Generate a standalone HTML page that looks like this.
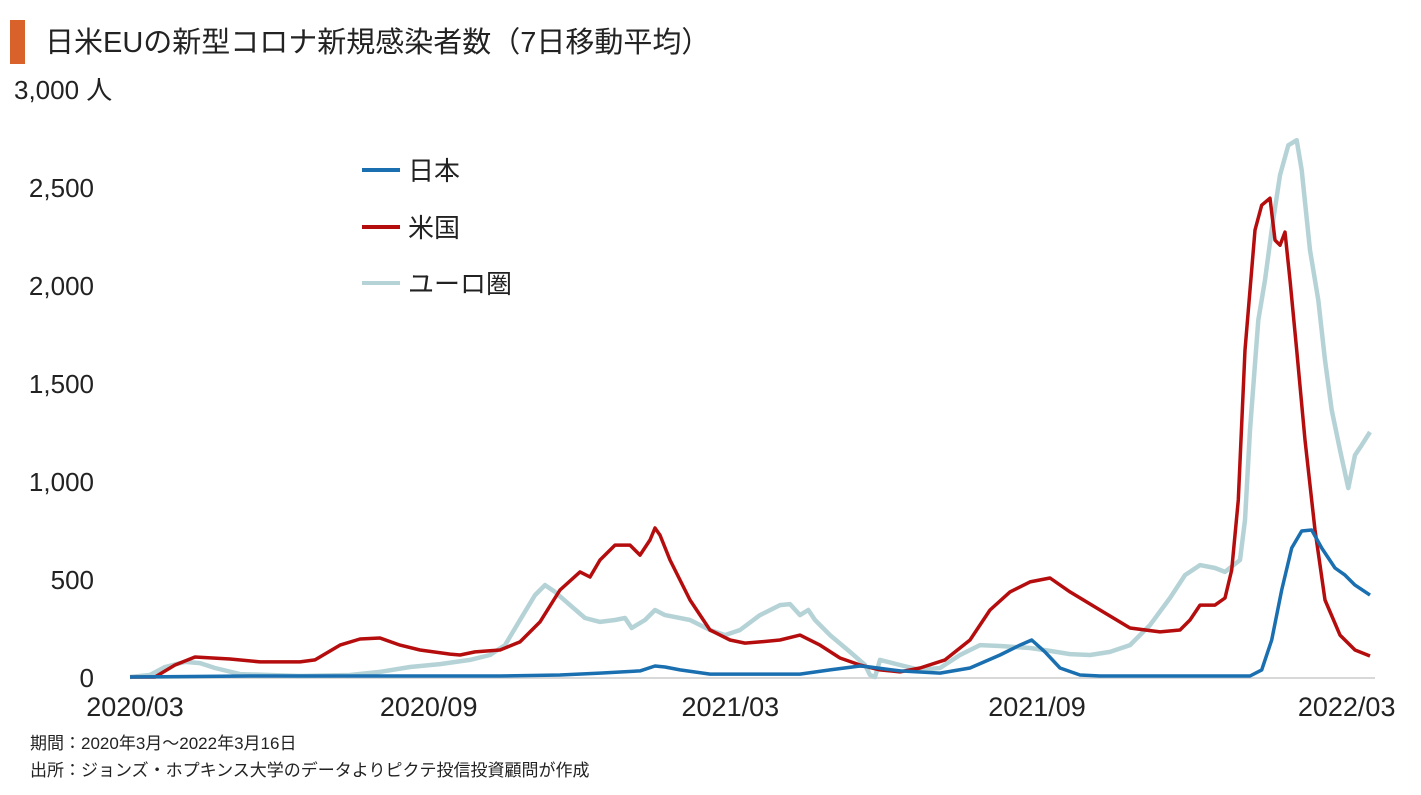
<!DOCTYPE html>
<html><head><meta charset="utf-8">
<style>
body{margin:0;background:#fff;width:1421px;height:790px;overflow:hidden;font-family:"Liberation Sans","Noto Sans CJK JP",sans-serif;}
</style></head>
<body>
<svg width="1421" height="790" xmlns="http://www.w3.org/2000/svg" style="font-family:'Liberation Sans','Noto Sans CJK JP',sans-serif">
<rect x="10" y="20" width="15" height="44" fill="#d9622b"/>
<text x="45" y="52" font-size="29" fill="#222">日米EUの新型コロナ新規感染者数（7日移動平均）</text>
<g id="yaxis"></g>
<g id="xaxis"></g>
<g id="series"></g>
<g>
<line x1="362" y1="170" x2="400" y2="170" stroke="#1a6fb0" stroke-width="4"/>
<text x="408" y="180" font-size="26" fill="#222">日本</text>
<line x1="362" y1="227" x2="400" y2="227" stroke="#b50d0d" stroke-width="4"/>
<text x="408" y="237" font-size="26" fill="#222">米国</text>
<line x1="362" y1="283" x2="400" y2="283" stroke="#b5d3d6" stroke-width="4"/>
<text x="408" y="293" font-size="26" fill="#222">ユーロ圏</text>
</g>
<text x="30" y="749" font-size="17" fill="#222">期間：2020年3月～2022年3月16日</text>
<text x="30" y="776" font-size="17" fill="#222">出所：ジョンズ・ホプキンス大学のデータよりピクテ投信投資顧問が作成</text>
</svg>
<script>
const yTicks=[0,500,1000,1500,2000,2500,3000];
const yTickLabels=["0","500","1,000","1,500","2,000","2,500","3,000 人"];
const xTickDays=[0,184,365,549,730];
const xTickLabels=["2020/03","2020/09","2021/03","2021/09","2022/03"];
const usDays=[0,15,27,39,60,78,102,111,126,138,150,162,174,192,198,207,222,234,246,258,270,276,282,291,300,306,312,315,318,324,336,348,360,369,378,390,402,414,426,438,450,462,474,489,504,516,528,540,552,564,582,600,618,630,636,642,651,657,661,665,669,675,679,684,687,690,693,696,700,705,711,717,726,735,744];
const usValues=[0,0,61,102,92,77,77,87,163,194,199,163,138,117,112,128,138,179,281,444,536,510,597,673,673,622,699,760,724,597,393,240,189,173,179,189,214,163,97,61,36,26,46,87,189,342,434,485,505,434,342,250,230,240,291,367,367,403,546,903,1668,2280,2407,2443,2229,2203,2270,2025,1668,1209,750,393,214,138,107];
const euDays=[0,12,21,33,42,51,66,102,132,150,168,186,204,216,225,234,243,249,255,264,273,282,291,297,301,309,315,321,336,348,357,366,378,390,396,402,407,411,420,432,441,444,447,450,462,474,486,498,510,522,540,552,564,576,588,600,612,624,633,642,651,657,666,669,672,677,681,685,690,695,700,703,708,713,717,721,726,731,735,739,744];
const euValues=[0,10,51,77,71,46,15,5,10,26,51,66,87,112,163,291,418,469,434,367,301,281,291,301,250,291,342,316,291,240,214,240,316,367,372,316,342,291,214,128,61,10,0,87,61,36,46,112,163,158,148,133,117,112,128,163,265,403,520,571,556,536,597,801,1260,1821,2025,2280,2560,2713,2739,2586,2178,1923,1617,1362,1158,964,1132,1183,1250];
const jpDays=[0,72,162,222,258,282,306,315,321,330,348,402,420,438,444,462,486,504,522,534,541,549,558,570,582,672,679,685,691,697,703,709,715,723,729,735,744];
const jpValues=[0,5,5,5,10,20,31,56,51,36,15,15,36,56,51,31,20,46,112,163,189,128,46,10,5,5,36,189,444,658,745,750,658,556,520,469,418];

const NS="http://www.w3.org/2000/svg";
const X0=130,X1=1370,D1=744,Y0=677,PX500=98;
function xs(d){return X0+d*(X1-X0)/D1;}
function ys(v){return Y0-v*PX500/500;}
const ya=document.getElementById('yaxis');
yTicks.forEach((t,i)=>{
  const tx=document.createElementNS(NS,'text');
  tx.setAttribute('x',i===6?14:94);
  tx.setAttribute('y',ys(t)+10);
  tx.setAttribute('font-size','26');
  tx.setAttribute('fill','#222');
  if(i!==6) tx.setAttribute('text-anchor','end');
  tx.textContent=yTickLabels[i];
  
  
  ya.appendChild(tx);
});
const xa=document.getElementById('xaxis');
const ax=document.createElementNS(NS,'line');
ax.setAttribute('x1',X0);ax.setAttribute('x2',1375);ax.setAttribute('y1',Y0+1);ax.setAttribute('y2',Y0+1);
ax.setAttribute('stroke','#d8d8d8');ax.setAttribute('stroke-width','2');


xa.appendChild(ax);
xTickDays.forEach((d,i)=>{
  const tx=document.createElementNS(NS,'text');
  tx.setAttribute('x',xs(d)+(i===0?5:i===4?0:-8));
  tx.setAttribute('y',716);
  tx.setAttribute('font-size','27');
  tx.setAttribute('fill','#222');
  tx.setAttribute('text-anchor','middle');
  tx.textContent=xTickLabels[i];
  
  
  xa.appendChild(tx);
});
const sg=document.getElementById('series');
function line(days,vals,color,w,name){
  const p=document.createElementNS(NS,'path');
  p.setAttribute('d',days.map((d,i)=>(i?'L':'M')+xs(d).toFixed(1)+','+ys(vals[i]).toFixed(1)).join(''));
  p.setAttribute('fill','none');p.setAttribute('stroke',color);p.setAttribute('stroke-width',w);
  p.setAttribute('stroke-linejoin','round');
  
  
  sg.appendChild(p);
}
line(euDays,euValues,'#b5d3d6',4.5,'line-euro');
line(usDays,usValues,'#b50d0d',3.5,'line-us');
line(jpDays,jpValues,'#1a6fb0',3.5,'line-japan');
</script>
</body></html>
